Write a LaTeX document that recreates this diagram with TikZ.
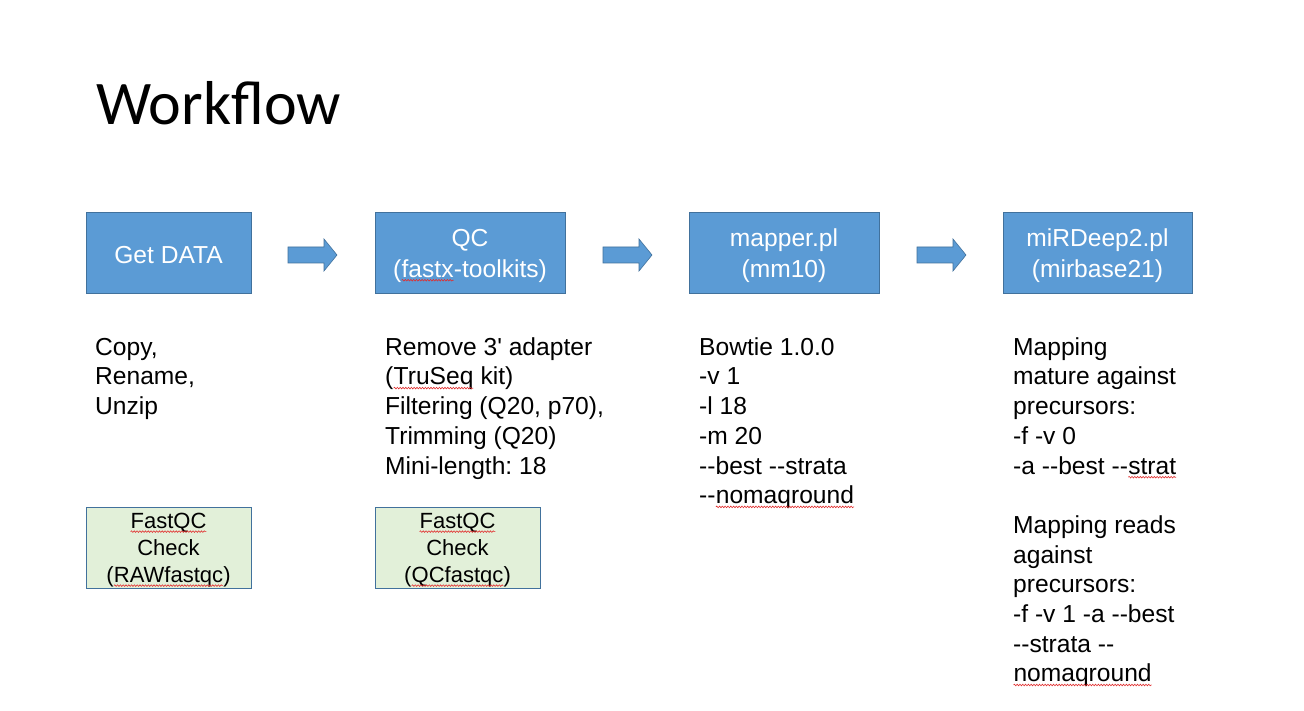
\documentclass[tikz,border=0pt]{standalone}
\usepackage{fontspec}
\setmainfont{Liberation Sans}[Ligatures=TeXOff]
\newfontfamily\titlefam{Carlito}
\usetikzlibrary{decorations.pathmorphing}
\frenchspacing
\definecolor{boxblue}{RGB}{91,155,213}
\definecolor{boxedge}{RGB}{65,113,156}
\definecolor{boxgreen}{RGB}{226,240,217}
\definecolor{sqred}{RGB}{225,45,45}
\newcommand\fs{\rule{0pt}{21pt}}
\newcommand\dd{-\kern0pt-}
\tikzset{
  sqline/.style={draw=sqred, line width=0.6pt, decorate,
    decoration={snake, amplitude=0.8pt, segment length=2.8pt}},
  bluebox/.style={rectangle, fill=boxblue, draw=boxedge, line width=1pt,
    minimum height=81pt, inner sep=0pt},
  bluetxt/.style={inner sep=0pt, text=white, align=center, yshift=-2pt,
    font=\frenchspacing\fontsize{24.6}{31}\selectfont},
  greenbox/.style={rectangle, fill=boxgreen, draw=boxedge, line width=0.8pt,
    minimum width=165pt, minimum height=81pt, inner sep=0pt},
  greentxt/.style={inner sep=0pt, text=black, align=center, yshift=-2.5pt,
    font=\frenchspacing\fontsize{22}{27}\selectfont},
  blockarrow/.style={fill=boxblue, draw=boxedge, line width=0.6pt, line join=miter},
  txt/.style={anchor=north west, inner sep=0pt, align=left, text=black,
    font=\frenchspacing\fontsize{24.6}{29.7}\selectfont},
}
\newcommand\sq[1]{\tikz[baseline=(sqw.base)]{\node[inner sep=0pt,outer sep=0pt,draw=none,fill=none,minimum width=0pt,minimum height=0pt,anchor=base,align=left,yshift=0pt](sqw){#1};\path[sqline]([yshift=-3.2pt]sqw.base west)--([yshift=-3.2pt]sqw.base east);}}
\begin{document}
\begin{tikzpicture}[x=1pt,y=-1pt]
\fill[white] (0,0) rectangle (1304,711);
\useasboundingbox (0,0) rectangle (1304,711);

\node[anchor=base west, inner sep=0pt, font=\titlefam\fontsize{62}{70}\selectfont] (title) at (96,125) {Workflow};

\node[bluebox, minimum width=165pt, label={[bluetxt]center:{Get DATA}}] (get) at (168.5,253.5) {};
\node[bluebox, minimum width=190pt, label={[bluetxt]center:{QC\\(\sq{fastx}-toolkits)}}] (qc) at (470,253.5) {};
\node[bluebox, minimum width=190pt, label={[bluetxt]center:{mapper.pl\\(mm10)}}] (map) at (784,253.5) {};
\node[bluebox, minimum width=189pt, label={[bluetxt]center:{miRDeep2.pl\\(mirbase21)}}] (mir) at (1097.5,253.5) {};

\coordinate (ar1) at (312.5,255);
\coordinate (ar2) at (627.5,255);
\coordinate (ar3) at (941.5,255);
\foreach \a in {ar1,ar2,ar3}
  \path[blockarrow] (\a) +(-24.5,-8) -- +(11.5,-8) -- +(11.5,-16) -- +(24.5,0)
     -- +(11.5,16) -- +(11.5,8) -- +(-24.5,8) -- cycle;

\node[txt] (t1) at (95,334) {\fs Copy,\\Rename,\\Unzip};
\node[txt] (t2) at (385,334) {\fs Remove 3' adapter\\(\sq{TruSeq} kit)\\Filtering (Q20, p70),\\Trimming (Q20)\\Mini-length: 18};
\node[txt] (t3) at (699,334) {\fs Bowtie 1.0.0\\-v 1\\-l 18\\-m 20\\\dd best \dd strata\\\dd\sq{nomaqround}};
\node[txt] (t4) at (1013,334) {\fs Mapping\\mature against\\precursors:\\-f -v 0\\-a \dd best \dd\sq{strat}\\[29.6pt]Mapping reads\\against\\precursors:\\-f -v 1 -a \dd best\\\dd strata \dd\\\sq{nomaqround}};

\node[greenbox, label={[greentxt]center:{\sq{FastQC}\\Check\\(\sq{RAWfastqc})}}] (fq1) at (168.5,547.5) {};
\node[greenbox, label={[greentxt]center:{\sq{FastQC}\\Check\\(\sq{QCfastqc})}}] (fq2) at (457.5,547.5) {};
\end{tikzpicture}
\end{document}
